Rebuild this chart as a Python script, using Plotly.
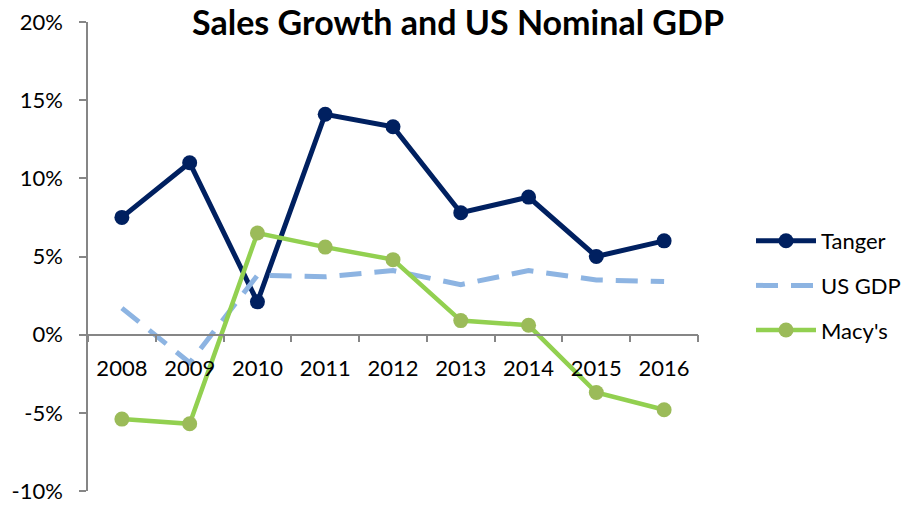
import plotly.graph_objects as go

years = ["2008", "2009", "2010", "2011", "2012", "2013", "2014", "2015", "2016"]
tanger = [7.5, 11.0, 2.1, 14.1, 13.3, 7.8, 8.8, 5.0, 6.0]
us_gdp = [1.7, -1.8, 3.8, 3.7, 4.1, 3.2, 4.1, 3.5, 3.4]
macys = [-5.4, -5.7, 6.5, 5.6, 4.8, 0.9, 0.6, -3.7, -4.8]
y_ticks = [-10, -5, 0, 5, 10, 15, 20]
y_tick_labels = ["-10%", "-5%", "0%", "5%", "10%", "15%", "20%"]

FONT = "Lato"

fig = go.Figure()
fig.add_trace(go.Scatter(
    x=years, y=tanger, name="Tanger", mode="lines+markers",
    line=dict(color="#002060", width=5),
    marker=dict(color="#002060", size=15),
    legendgroup="a",
))
fig.add_trace(go.Scatter(
    x=years, y=us_gdp, name="US GDP", mode="lines",
    line=dict(color="#8DB4E2", width=5, dash="22px,13px"),
    legendgroup="b",
))
fig.add_trace(go.Scatter(
    x=years, y=macys, name="Macy's", mode="lines+markers",
    line=dict(color="#92D050", width=4.5),
    marker=dict(color="#9BBB59", size=15),
    legendgroup="c",
))

fig.update_layout(
    width=905, height=505,
    margin=dict(l=88, r=207, t=22, b=14),
    paper_bgcolor="white", plot_bgcolor="white",
    font=dict(family=FONT, color="black", size=22),
    title=dict(
        text="<b>Sales Growth and US Nominal GDP</b>",
        x=(458) / 905, xanchor="center", xref="container",
        y=1 - 23 / 505, yanchor="middle", yref="container",
        font=dict(family=FONT, size=34, color="black"),
    ),
    showlegend=True,
    legend=dict(
        xref="container", yref="container",
        x=751 / 905, y=1 - 220 / 505, xanchor="left", yanchor="top",
        font=dict(family=FONT, size=22, color="black"),
        tracegroupgap=13, traceorder="grouped",
        itemwidth=60, bgcolor="rgba(0,0,0,0)",
    ),
    xaxis=dict(
        type="category", range=[-0.5, 8.5],
        anchor="free", position=1 / 3, automargin=False,
        showline=True, linecolor="#868686", linewidth=1.5,
        ticks="outside", tickson="boundaries", ticklen=7,
        tickcolor="#868686", tickwidth=1.5,
        showgrid=False, zeroline=False,
        ticklabelstandoff=14,
        tickfont=dict(family=FONT, size=22, color="black"),
    ),
    yaxis=dict(
        range=[-10, 20], tickvals=y_ticks, ticktext=y_tick_labels,
        automargin=False, ticklabeloverflow="allow",
        showline=True, linecolor="#868686", linewidth=1.5,
        ticks="outside", ticklen=7, tickcolor="#868686", tickwidth=1.5,
        showgrid=False, zeroline=False,
        ticklabelstandoff=12,
        tickfont=dict(family=FONT, size=22, color="black"),
    ),
)

fig.write_html(
    "out.html",
    config={"displayModeBar": False},
    post_script="document.body.style.margin='0px';",
)
